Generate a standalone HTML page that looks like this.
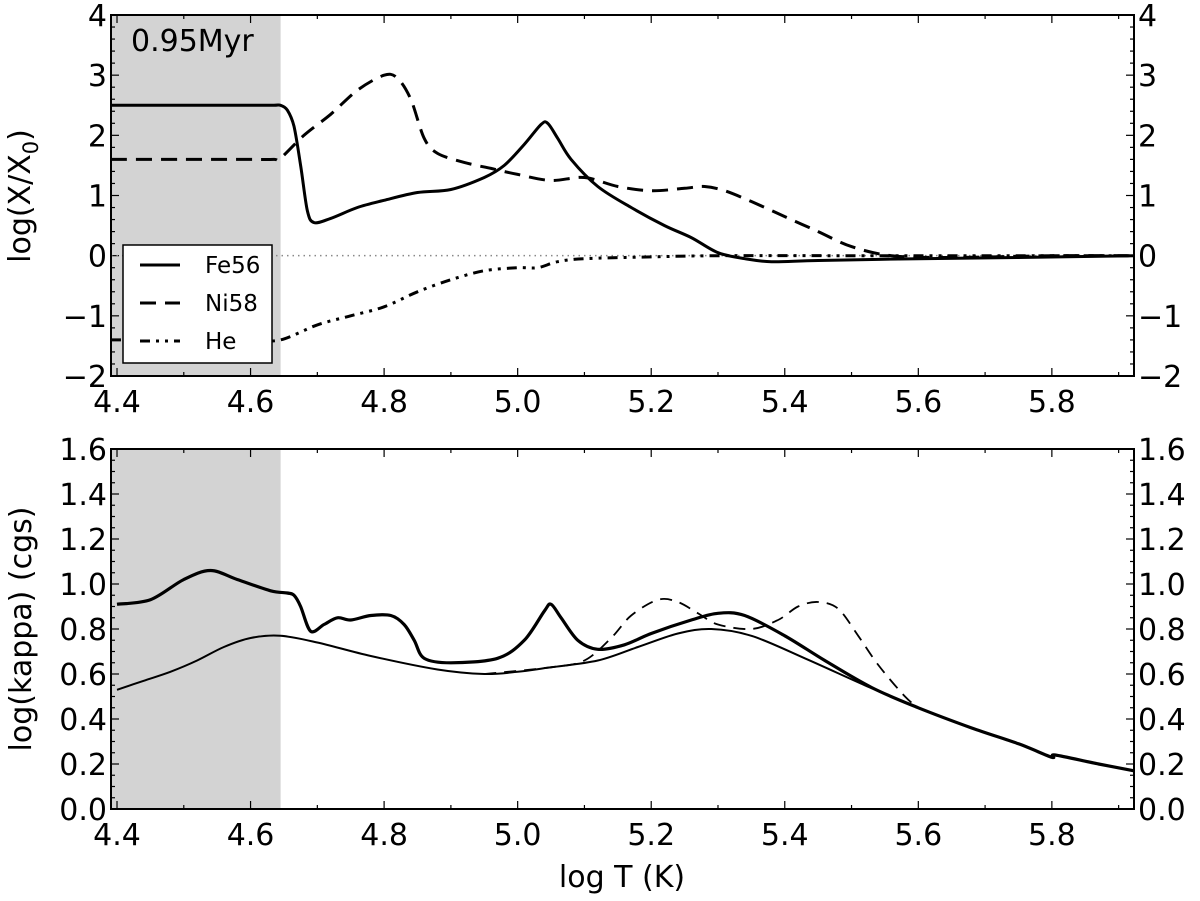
<!DOCTYPE html>
<html><head><meta charset="utf-8"><style>
body{margin:0;background:#fff}
svg{display:block;font-family:"DejaVu Sans","Liberation Sans",sans-serif}
</style></head><body>
<svg id="chart" width="1200" height="901" viewBox="0 0 1200 901"></svg>
<script>
// ---- data ----
const feX = [4.391,4.5,4.6,4.635,4.645,4.655,4.665,4.675,4.685,4.695,4.72,4.76,4.8,4.85,4.9,4.95,4.98,5.01,5.035,5.045,5.06,5.08,5.12,5.17,5.22,5.26,5.3,5.34,5.38,5.45,5.6,5.75,5.923];
const feY = [2.5,2.5,2.5,2.5,2.5,2.42,2.15,1.5,0.75,0.55,0.62,0.8,0.92,1.05,1.1,1.3,1.5,1.85,2.18,2.2,1.95,1.6,1.15,0.8,0.5,0.3,0.05,-0.05,-0.1,-0.08,-0.05,-0.03,0];
const niX = [4.391,4.5,4.6,4.635,4.645,4.68,4.72,4.76,4.8,4.82,4.84,4.86,4.88,4.92,4.96,5.0,5.05,5.1,5.15,5.2,5.25,5.28,5.31,5.35,5.4,5.45,5.5,5.56,5.65,5.8,5.923];
const niY = [1.6,1.6,1.6,1.6,1.62,2.0,2.35,2.75,3.0,2.95,2.6,1.95,1.7,1.55,1.45,1.35,1.25,1.3,1.15,1.08,1.12,1.15,1.08,0.9,0.65,0.4,0.15,0.0,-0.03,0,0];
const heX = [4.391,4.5,4.6,4.645,4.7,4.75,4.8,4.85,4.9,4.95,5.0,5.03,5.06,5.1,5.2,5.3,5.5,5.923];
const heY = [-1.4,-1.4,-1.4,-1.4,-1.15,-1.0,-0.85,-0.6,-0.4,-0.25,-0.2,-0.2,-0.1,-0.05,-0.02,0,0,0];
const kThickX = [4.4,4.45,4.5,4.54,4.58,4.63,4.655,4.665,4.675,4.69,4.71,4.73,4.75,4.78,4.81,4.83,4.845,4.86,4.9,4.97,5.01,5.04,5.05,5.065,5.09,5.12,5.16,5.2,5.26,5.3,5.34,5.4,5.46,5.53,5.6,5.68,5.75,5.8,5.805,5.87,5.923];
const kThickY = [0.91,0.93,1.02,1.06,1.02,0.97,0.96,0.95,0.9,0.79,0.82,0.85,0.84,0.86,0.86,0.82,0.75,0.67,0.65,0.67,0.75,0.88,0.91,0.85,0.75,0.71,0.73,0.78,0.84,0.87,0.86,0.77,0.66,0.54,0.45,0.36,0.29,0.23,0.24,0.2,0.17];
const kThinX = [4.4,4.44,4.48,4.52,4.56,4.6,4.645,4.7,4.78,4.88,4.95,5.0,5.05,5.12,5.18,5.24,5.29,5.35,5.43,5.52,5.6];
const kThinY = [0.53,0.57,0.61,0.66,0.72,0.76,0.77,0.74,0.68,0.62,0.60,0.61,0.63,0.66,0.72,0.78,0.80,0.77,0.67,0.55,0.45];
const kDashX = [4.95,5.05,5.1,5.14,5.17,5.21,5.24,5.27,5.3,5.35,5.39,5.42,5.45,5.48,5.51,5.54,5.58,5.6];
const kDashY = [0.60,0.63,0.66,0.76,0.86,0.93,0.92,0.87,0.82,0.80,0.84,0.9,0.92,0.89,0.77,0.64,0.5,0.45];
const xTicks = [4.4,4.6,4.8,5.0,5.2,5.4,5.6,5.8];
const xTickLabels = ["4.4","4.6","4.8","5.0","5.2","5.4","5.6","5.8"];
const topTicks = [-2,-1,0,1,2,3,4];
const topTickLabels = ["\u22122","\u22121","0","1","2","3","4"];
const botTicks = [0,0.2,0.4,0.6,0.8,1.0,1.2,1.4,1.6];
const botTickLabels = ["0.0","0.2","0.4","0.6","0.8","1.0","1.2","1.4","1.6"];

// ---- layout ----
const L=111,R=1134,xmin=4.391,xmax=5.923;
const sx=v=>L+(v-xmin)/(xmax-xmin)*(R-L);
const T1=15,B1=376,T2=449,B2=809;
const sy1=v=>B1-(v+2)/6*(B1-T1);
const sy2=v=>B2-v/1.6*(B2-T2);
const svg=document.getElementById('chart');
const NS='http://www.w3.org/2000/svg';
const FS=30;
function mk(tag,attrs,parent){const e=document.createElementNS(NS,tag);for(const k in attrs)e.setAttribute(k,attrs[k]);(parent||svg).appendChild(e);return e;}
function txt(s,x,y,size,anchor,parent){const t=mk('text',{x:x,y:y,'font-size':size,'text-anchor':anchor||'middle',fill:'#000'},parent);t.textContent=s;return t;}
function smoothPath(P){
  let d='M'+P[0][0].toFixed(1)+','+P[0][1].toFixed(1);
  for(let i=0;i<P.length-1;i++){
    const p0=P[i-1]||P[i],p1=P[i],p2=P[i+1],p3=P[i+2]||P[i+1];
    const k=0.16;
    const c1=[p1[0]+(p2[0]-p0[0])*k,p1[1]+(p2[1]-p0[1])*k];
    const c2=[p2[0]-(p3[0]-p1[0])*k,p2[1]-(p3[1]-p1[1])*k];
    d+=' C'+c1[0].toFixed(1)+','+c1[1].toFixed(1)+' '+c2[0].toFixed(1)+','+c2[1].toFixed(1)+' '+p2[0].toFixed(1)+','+p2[1].toFixed(1);
  }
  return d;
}
function line(xs,ys,sy,attrs,name){const P=xs.map((x,i)=>[sx(x),sy(ys[i])]);const p=mk('path',Object.assign({d:smoothPath(P),fill:'none',stroke:'#000','stroke-linejoin':'round'},attrs));


return p;}

function panel(T,B,sy,ticks,labels,minorStep,vmin,vmax,name){
  const g=mk('g',{});
  
  
  const sh=mk('rect',{x:L,y:T,width:sx(4.645)-L,height:B-T,fill:'#d3d3d3'},g);
  
  
  for(let v=4.4;v<=5.92;v+=0.1){const X=sx(v);const major=Math.abs(Math.round(v*10)%2)===0;const len=major?8:4;
    mk('line',{x1:X,x2:X,y1:B,y2:B-len,stroke:'#000','stroke-width':1.2},g);mk('line',{x1:X,x2:X,y1:T,y2:T+len,stroke:'#000','stroke-width':1.2},g);}
  for(let v=vmin;v<=vmax+1e-9;v+=minorStep){const Y=sy(v);const major=ticks.some(t=>Math.abs(t-v)<1e-6);const len=major?8:4;
    mk('line',{x1:L,x2:L+len,y1:Y,y2:Y,stroke:'#000','stroke-width':1.2},g);mk('line',{x1:R,x2:R-len,y1:Y,y2:Y,stroke:'#000','stroke-width':1.2},g);}
  xTicks.forEach((v,i)=>{const t=txt(xTickLabels[i],sx(v),B+36,FS,'middle',g);
    
    });
  ticks.forEach((v,i)=>{const a=txt(labels[i],L-4,sy(v)+11,FS,'end',g);
    
    
    const b=txt(labels[i],R+4,sy(v)+11,FS,'start',g);
    
    });
  return g;
}
const g1=panel(T1,B1,sy1,topTicks,topTickLabels,0.2,-2,4,'top-panel');
mk('line',{x1:L,x2:R,y1:sy1(0),y2:sy1(0),stroke:'#888','stroke-width':1.5,'stroke-dasharray':'1.5,4'},g1);
line(feX,feY,sy1,{'stroke-width':3},'fe56-line');
line(niX,niY,sy1,{'stroke-width':3,'stroke-dasharray':'16,9'},'ni58-line');
line(heX,heY,sy1,{'stroke-width':3,'stroke-dasharray':'10,6,3,6,3,6'},'he-line');
mk('rect',{x:L,y:T1,width:R-L,height:B1-T1,fill:'none',stroke:'#000','stroke-width':2});
const lbl=txt('0.95Myr',131,51,30,'start');


const lg=mk('g',{});


mk('rect',{x:123,y:245,width:149,height:118,fill:'#fff',stroke:'#000','stroke-width':1.5},lg);
const le=[['Fe56',''],['Ni58','16,9'],['He','10,6,3,6,3,6']];
le.forEach((e,i)=>{const y=265+i*38;const l=mk('line',{x1:140,x2:180,y1:y,y2:y,stroke:'#000','stroke-width':3,'stroke-dasharray':e[1]||'none'},lg);
  
  
  const t=txt(e[0],205,y+8,23,'start',lg);
  
  });
const yl1=txt('log(X/X',0,0,FS,'middle');
yl1.setAttribute('transform','translate(30,196) rotate(-90)');


const sub=mk('tspan',{'font-size':21,dy:8},yl1);sub.textContent='0';
const cl=mk('tspan',{'font-size':FS,dy:-8},yl1);cl.textContent=')';

const g2=panel(T2,B2,sy2,botTicks,botTickLabels,0.05,0,1.6,'bottom-panel');
line(kThinX,kThinY,sy2,{'stroke-width':2},'kappa-initial-line');
line(kDashX,kDashY,sy2,{'stroke-width':1.8,'stroke-dasharray':'12,8'},'kappa-ni-line');
line(kThickX,kThickY,sy2,{'stroke-width':3.2},'kappa-fe-line');
mk('rect',{x:L,y:T2,width:R-L,height:B2-T2,fill:'none',stroke:'#000','stroke-width':2});
const yl2=txt('log(kappa) (cgs)',0,0,FS,'middle');
yl2.setAttribute('transform','translate(31,629) rotate(-90)');


const xl=txt('log T (K)',622,887,FS,'middle');


</script>
</body></html>
